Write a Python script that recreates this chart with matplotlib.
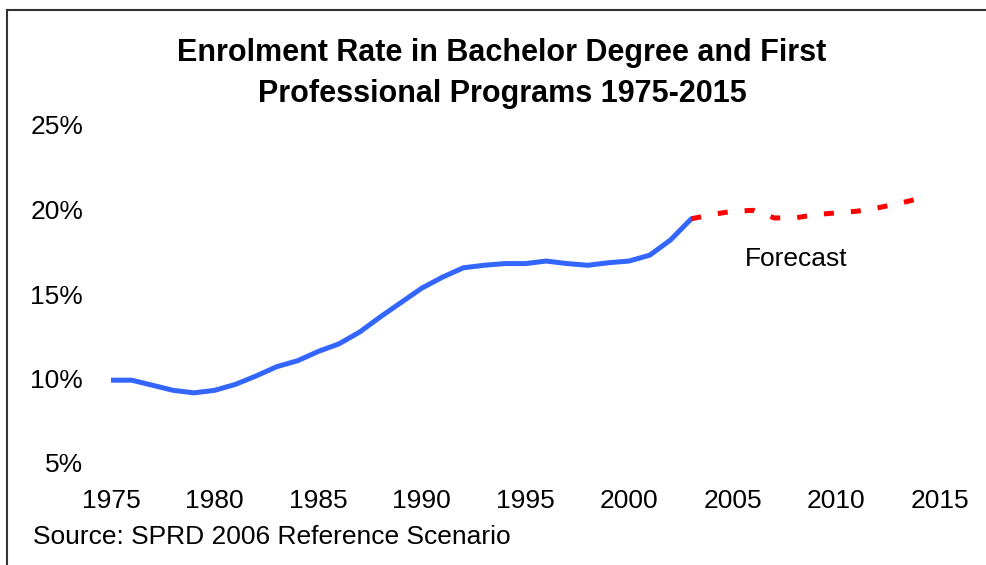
import matplotlib.pyplot as plt
import matplotlib.lines as mlines

plt.rcParams['font.family'] = ['Liberation Sans', 'DejaVu Sans']

# Historical enrolment rate (%)
years = list(range(1975, 2004))
rate = [9.9, 9.9, 9.6, 9.3, 9.15, 9.3, 9.65, 10.15, 10.7, 11.05,
        11.6, 12.05, 12.75, 13.65, 14.5, 15.35, 16.0, 16.55, 16.7, 16.8,
        16.8, 16.95, 16.8, 16.7, 16.85, 16.95, 17.3, 18.2, 19.45]

# Forecast (%)
f_years = list(range(2003, 2015))
f_rate = [19.45, 19.7, 19.9, 19.95, 19.5, 19.5, 19.7, 19.8, 19.9, 20.1, 20.35, 20.65]

xticks = [1975, 1980, 1985, 1990, 1995, 2000, 2005, 2010, 2015]
yticks = [5, 10, 15, 20, 25]

fig = plt.figure(figsize=(9.87, 5.65), dpi=100)
ax = fig.add_axes([111/987, 1 - 463/565, (940-111)/987, (463-125)/565])

ax.plot(years, rate, color='#3366FF', lw=3.6, solid_capstyle='round')
ax.plot(f_years, f_rate, color='#FF0000', lw=3.6, dashes=(2.0, 3.4))

ax.set_xlim(1975, 2015)
ax.set_ylim(5, 25)
ax.set_xticks(xticks)
ax.set_yticks(yticks)
ax.set_yticklabels([f'{v}%' for v in yticks])
ax.tick_params(length=0, labelsize=19)
ax.tick_params(axis='y', pad=20)
ax.tick_params(axis='x', pad=19)
for s in ax.spines.values():
    s.set_visible(False)

ax.text(2005.6, 17.1, 'Forecast', fontsize=19, ha='left', va='center')

fig.text(502/987, 1 - 73.5/565, 'Enrolment Rate in Bachelor Degree and First\nProfessional Programs 1975-2015',
         ha='center', va='center', fontsize=22, fontweight='bold', linespacing=1.5)
fig.text(33/987, 1 - 537/565, 'Source: SPRD 2006 Reference Scenario',
         ha='left', va='center', fontsize=19)

# outer frame (top and left edges)
fig.add_artist(mlines.Line2D([7.5/987, 1], [1 - 9.5/565, 1 - 9.5/565], color='#333333', lw=1.5))
fig.add_artist(mlines.Line2D([7.5/987, 7.5/987], [0, 1 - 9.5/565], color='#333333', lw=1.5))

fig.savefig('out.png', dpi=100)
